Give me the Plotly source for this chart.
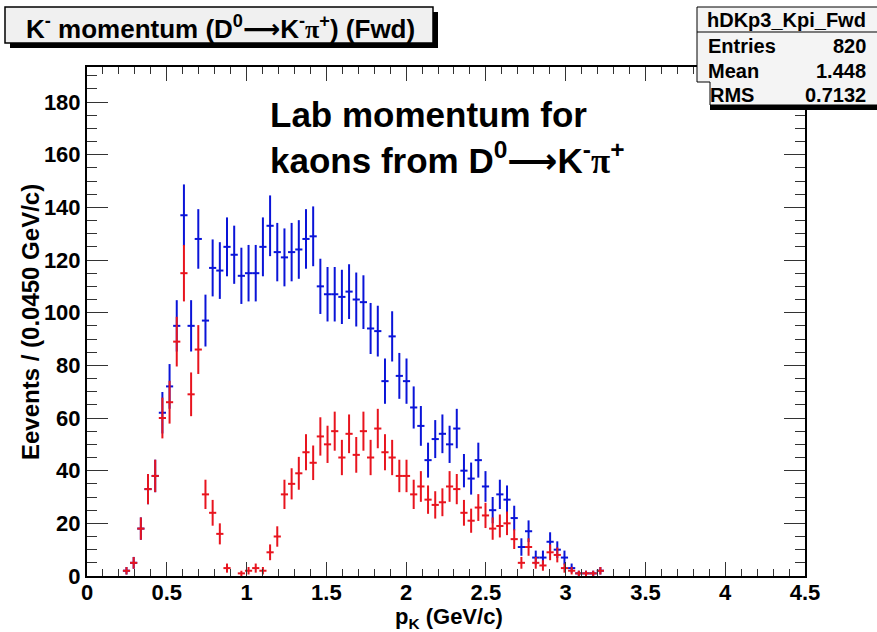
import numpy as np
import plotly.graph_objects as go

# ---------------- data ----------------
bin_width = 0.045          # GeV/c per bin, histogram from 0 to 4.5
first_bin = 5              # index of first drawn bin

# blue histogram (all kaons), bins 5..71
blue_counts = [2, 5, 18, 33, 38, 62, 72, 95, 137, 95,
               128, 97, 117, 116, 125, 122, 114, 115, 115, 125,
               133, 123, 121, 123, 124, 128, 129, 110, 107, 107,
               106, 108, 105, 104, 94, 93, 74, 91, 76, 74,
               64, 57, 44, 52, 54, 50, 56, 40, 37, 44,
               34, 25, 31, 29, 22, 11, 17, 7, 7, 13,
               10, 7, 3, 1, 1, 1, 2]
# red histogram (subset), bins 5..71
red_counts = [2, 5, 18, 33, 38, 60, 66, 89, 115, 69,
              86, 31, 24, 16, 3, 0, 1, 2, 3, 2,
              9, 15, 31, 35, 39, 47, 43, 53, 50, 55,
              45, 54, 46, 55, 45, 56, 47, 45, 38, 38,
              31, 34, 29, 27, 28, 34, 33, 24, 21, 26,
              23, 18, 19, 20, 14, 5, 11, 5, 4, 9,
              8, 3, 2, 1, 1, 1, 2]

x_tick_vals = [0, 0.5, 1, 1.5, 2, 2.5, 3, 3.5, 4, 4.5]
x_tick_text = ["0", "0.5", "1", "1.5", "2", "2.5", "3", "3.5", "4", "4.5"]
y_tick_vals = [0, 20, 40, 60, 80, 100, 120, 140, 160, 180]
y_tick_text = ["0", "20", "40", "60", "80", "100", "120", "140", "160", "180"]

ARROW = '<span style="font-family:DejaVu Sans">⟶</span>'
PI = '<span style="font-family:Liberation Serif">π</span>'
title_text = f"K<sup>-</sup> momentum (D<sup>0</sup>{ARROW}K<sup>-</sup>{PI}<sup>+</sup>) (Fwd)"
note_text = f"Lab momentum for<br>kaons from D<sup>0</sup>{ARROW}K<sup>-</sup>{PI}<sup>+</sup>"
stats_name = "hDKp3_Kpi_Fwd"
stats_rows = [("Entries", "820"), ("Mean", "1.448"), ("RMS", "0.7132")]

# --------------- figure ---------------
W, H = 877, 632
L, R, T, B = 87, 72, 67, 56
PW, PH = W - L - R, H - T - B


def px(x):
    return (x - L) / PW


def py(y):
    return (H - B - y) / PH


def centers(n):
    return [(first_bin + i + 0.5) * bin_width for i in range(n)]


def hist_trace(counts, color):
    xs, ys = [], []
    for xc, c in zip(centers(len(counts)), counts):
        if c > 0:
            xs.append(xc)
            ys.append(c)
    ys = np.array(ys, dtype=float)
    return go.Scatter(
        x=xs, y=ys, mode="markers",
        marker=dict(size=1, color=color, opacity=0),
        error_y=dict(type="data", array=np.sqrt(ys), thickness=2, width=0, color=color),
        error_x=dict(type="constant", value=bin_width / 2, thickness=2, width=0, color=color),
        showlegend=False, hoverinfo="skip",
    )


fig = go.Figure()
fig.add_trace(hist_trace(blue_counts, "#0a14d8"))
fig.add_trace(hist_trace(red_counts, "#e8141e"))

FONT = "Liberation Sans, Arial, Helvetica, sans-serif"

fig.update_layout(
    width=W, height=H,
    margin=dict(l=L, r=R, t=T, b=B),
    paper_bgcolor="white", plot_bgcolor="white",
    font=dict(family=FONT, color="black"),
    xaxis=dict(
        range=[0, 4.5], tickvals=x_tick_vals, ticktext=x_tick_text,
        ticks="inside", ticklen=14, tickwidth=1, tickcolor="#333",
        minor=dict(dtick=0.1, tick0=0, ticks="inside", ticklen=7, tickwidth=1, tickcolor="#333"),
        showline=True, linecolor="black", linewidth=2, mirror="allticks",
        showgrid=False, zeroline=False, ticklabelstandoff=-4,
        tickfont=dict(size=22, weight="bold", family=FONT),
    ),
    yaxis=dict(
        range=[0, 193.3], tickvals=y_tick_vals, ticktext=y_tick_text,
        ticks="inside", ticklen=21, tickwidth=1, tickcolor="#333",
        minor=dict(dtick=5, tick0=0, ticks="inside", ticklen=10, tickwidth=1, tickcolor="#333"),
        showline=True, linecolor="black", linewidth=2, mirror="allticks",
        showgrid=False, zeroline=False,
        tickfont=dict(size=22, weight="bold", family=FONT),
    ),
)

shapes = []
# title box with shadow
shapes.append(dict(type="rect", xref="paper", yref="paper",
                   x0=px(10), x1=px(438), y0=py(48), y1=py(12),
                   fillcolor="black", line=dict(width=0), layer="above"))
shapes.append(dict(type="rect", xref="paper", yref="paper",
                   x0=px(5), x1=px(433), y0=py(43), y1=py(7),
                   fillcolor="#f0f0f0", line=dict(color="black", width=1.5), layer="above"))
# stats box
shapes.append(dict(type="rect", xref="paper", yref="paper",
                   x0=px(710), x1=px(880), y0=py(110), y1=py(104),
                   fillcolor="black", line=dict(width=0), layer="above"))
shapes.append(dict(type="path", xref="paper", yref="paper",
                   path=(f"M {px(697)},{py(7)} L {px(880)},{py(7)} L {px(880)},{py(105)} "
                         f"L {px(710)},{py(105)} L {px(710)},{py(82)} L {px(697)},{py(82)} Z"),
                   fillcolor="#f4f4f4", line=dict(color="black", width=1), layer="above"))
shapes.append(dict(type="line", xref="paper", yref="paper",
                   x0=px(697), x1=px(880), y0=py(32), y1=py(32),
                   line=dict(color="black", width=1), layer="above"))
fig.update_layout(shapes=shapes)

ann = []
ann.append(dict(xref="paper", yref="paper", x=px(220), y=py(27), text="<b>" + title_text + "</b>",
                showarrow=False, xanchor="center", yanchor="middle",
                font=dict(size=26, family=FONT, color="black")))
ann.append(dict(xref="paper", yref="paper", x=px(268), y=py(138), text="<b>" + note_text + "</b>",
                showarrow=False, xanchor="left", yanchor="middle", align="left",
                font=dict(size=35, family=FONT, color="black")))
ann.append(dict(xref="paper", yref="paper", x=px(786), y=py(20), text="<b>" + stats_name + "</b>",
                showarrow=False, xanchor="center", yanchor="middle",
                font=dict(size=20, family=FONT, color="black")))
for (lab, val), yy in zip(stats_rows, [46, 71, 95]):
    ann.append(dict(xref="paper", yref="paper", x=px(706 if lab != "RMS" else 708), y=py(yy),
                    text="<b>" + lab + "</b>", showarrow=False, xanchor="left", yanchor="middle",
                    font=dict(size=20, family=FONT, color="black")))
    ann.append(dict(xref="paper", yref="paper", x=px(868), y=py(yy),
                    text="<b>" + val + "</b>", showarrow=False, xanchor="right", yanchor="middle",
                    font=dict(size=20, family=FONT, color="black")))
# axis titles
ann.append(dict(xref="paper", yref="paper", x=px(449), y=py(618),
                text="<b>p<sub>K</sub> (GeV/c)</b>", showarrow=False,
                xanchor="center", yanchor="middle", font=dict(size=22, family=FONT, color="black")))
ann.append(dict(xref="paper", yref="paper", x=px(30), y=py(322),
                text="<b>Eevents / (0.0450 GeV/c)</b>", showarrow=False, textangle=-90,
                xanchor="center", yanchor="middle", font=dict(size=24, family=FONT, color="black")))
fig.update_layout(annotations=ann)

fig.write_html("out.html")
